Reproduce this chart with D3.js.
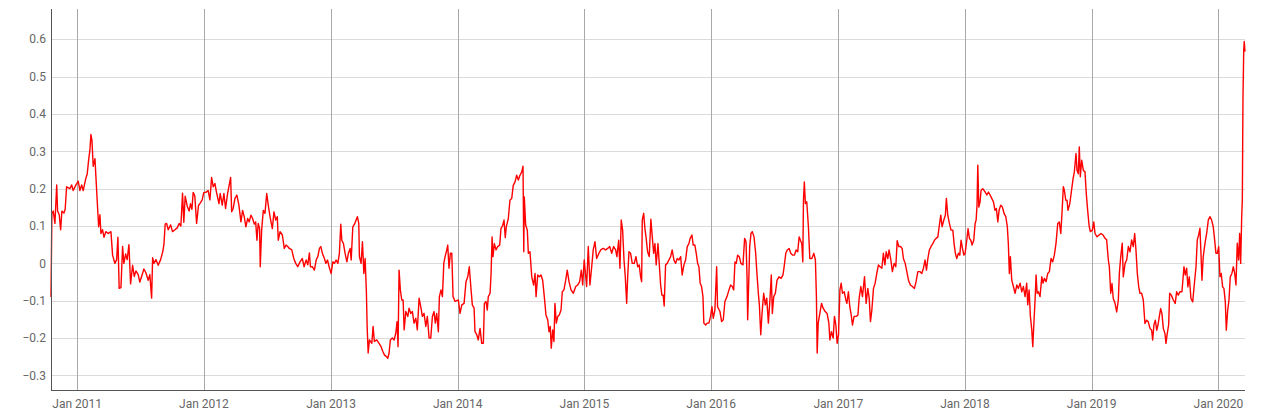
<!DOCTYPE html>
<html><head><meta charset="utf-8">
<script src="https://cdn.jsdelivr.net/npm/d3@7"></script>
<style>body{margin:0;background:#fff}svg{display:block}</style>
</head><body>
<svg id="chart" width="1263" height="416"></svg>
<script>
// dates as decimal years
const dates = [
2010.793,2010.800,2010.811,2010.824,2010.838,2010.845,2010.858,2010.869,2010.879,2010.895,2010.905,2010.916,2010.942,2010.956,2010.968,2010.990,
2011.008,2011.021,2011.035,2011.047,2011.066,2011.079,2011.090,2011.100,2011.108,2011.116,2011.126,2011.140,2011.147,2011.158,2011.169,2011.179,2011.187,2011.200,2011.211,2011.226,2011.245,2011.266,2011.279,2011.297,2011.311,2011.321,2011.331,2011.345,2011.358,2011.368,2011.382,2011.394,2011.408,2011.421,2011.437,2011.450,2011.463,2011.481,2011.494,2011.513,2011.526,2011.542,2011.560,2011.573,2011.587,2011.595,2011.605,2011.621,2011.639,2011.658,2011.674,2011.684,2011.694,2011.705,2011.718,2011.737,2011.752,2011.771,2011.789,2011.804,2011.818,2011.831,2011.841,2011.852,2011.868,2011.883,2011.894,2011.905,2011.915,2011.928,2011.942,2011.957,
2011.968,2011.986,2011.999,2012.015,2012.033,2012.047,2012.060,2012.073,2012.086,2012.099,2012.118,2012.128,2012.144,2012.157,2012.170,2012.186,2012.196,2012.210,2012.218,2012.230,2012.244,2012.259,2012.275,2012.291,2012.304,2012.317,2012.330,2012.344,2012.356,2012.370,2012.383,2012.396,2012.407,2012.417,2012.427,2012.438,2012.443,2012.454,2012.467,2012.480,2012.494,2012.506,2012.520,2012.538,2012.551,2012.565,2012.577,2012.585,2012.599,2012.617,2012.632,2012.646,2012.659,2012.672,2012.691,2012.707,2012.722,2012.738,2012.756,2012.774,2012.788,2012.804,2012.817,2012.830,2012.838,2012.853,2012.869,2012.883,2012.896,2012.909,2012.920,2012.932,2012.948,2012.959,2012.972,2012.985,2013.001,2013.014,
2013.027,2013.040,2013.054,2013.066,2013.077,2013.085,2013.098,2013.111,2013.125,2013.137,2013.151,2013.159,2013.172,2013.185,2013.198,2013.208,2013.219,2013.224,2013.237,2013.248,2013.259,2013.269,2013.279,2013.285,2013.293,2013.303,2013.322,2013.332,2013.342,2013.361,2013.379,2013.395,2013.409,2013.421,2013.435,2013.448,2013.458,2013.468,2013.484,2013.498,2013.511,2013.521,2013.529,2013.537,2013.547,2013.558,2013.569,2013.577,2013.590,2013.606,2013.616,2013.629,2013.642,2013.655,2013.669,2013.681,2013.695,2013.708,2013.721,2013.734,2013.748,2013.760,2013.774,2013.787,2013.800,2013.813,2013.823,2013.834,2013.847,2013.855,2013.868,2013.879,2013.890,2013.900,2013.910,2013.921,2013.931,2013.942,2013.953,2013.963,2013.979,
2014.005,2014.018,2014.032,2014.050,2014.065,2014.079,2014.091,2014.103,2014.115,2014.129,2014.136,2014.150,2014.162,2014.176,2014.189,2014.202,2014.210,2014.223,2014.233,2014.241,2014.255,2014.263,2014.271,2014.278,2014.289,2014.302,2014.315,2014.331,2014.341,2014.355,2014.365,2014.375,2014.383,2014.399,2014.412,2014.426,2014.438,2014.452,2014.465,2014.478,2014.491,2014.505,2014.515,2014.521,2014.525,2014.536,2014.549,2014.557,2014.570,2014.584,2014.599,2014.610,2014.618,2014.631,2014.644,2014.657,2014.670,2014.683,2014.696,2014.710,2014.720,2014.730,2014.738,2014.749,2014.759,2014.767,2014.778,2014.789,2014.801,2014.815,2014.825,2014.838,2014.852,2014.864,2014.878,2014.894,2014.912,2014.931,2014.946,2014.962,2014.975,2014.986,2014.998,
2015.017,2015.030,2015.043,2015.057,2015.069,2015.083,2015.096,2015.114,2015.130,2015.148,2015.167,2015.183,2015.199,2015.215,2015.230,2015.246,2015.256,2015.270,2015.280,2015.290,2015.301,2015.312,2015.322,2015.333,2015.341,2015.351,2015.364,2015.377,2015.393,2015.406,2015.420,2015.432,2015.443,2015.451,2015.456,2015.467,2015.477,2015.487,2015.498,2015.511,2015.524,2015.535,2015.546,2015.556,2015.566,2015.580,2015.590,2015.601,2015.611,2015.621,2015.629,2015.640,2015.653,2015.666,2015.680,2015.692,2015.706,2015.719,2015.732,2015.745,2015.759,2015.771,2015.785,2015.798,2015.811,2015.824,2015.834,2015.848,2015.858,2015.871,2015.882,2015.893,2015.903,2015.913,2015.924,2015.935,2015.942,2015.956,2015.968,2015.982,2015.995,
2016.006,2016.016,2016.029,2016.043,2016.050,2016.069,2016.082,2016.095,2016.108,2016.124,2016.140,2016.153,2016.166,2016.177,2016.187,2016.197,2016.208,2016.221,2016.234,2016.250,2016.263,2016.274,2016.282,2016.287,2016.295,2016.303,2016.313,2016.323,2016.337,2016.350,2016.360,2016.371,2016.379,2016.390,2016.400,2016.413,2016.426,2016.437,2016.450,2016.463,2016.473,2016.481,2016.492,2016.505,2016.518,2016.534,2016.550,2016.565,2016.576,2016.587,2016.599,2016.613,2016.626,2016.642,2016.655,2016.668,2016.681,2016.692,2016.702,2016.713,2016.721,2016.726,2016.733,2016.741,2016.752,2016.765,2016.776,2016.792,2016.808,2016.820,2016.828,2016.834,2016.842,2016.855,2016.868,2016.881,2016.897,2016.912,2016.926,2016.934,2016.946,2016.960,2016.970,2016.981,2016.991,
2017.002,2017.013,2017.023,2017.033,2017.047,2017.060,2017.068,2017.080,2017.091,2017.102,2017.112,2017.125,2017.141,2017.155,2017.165,2017.178,2017.191,2017.207,2017.220,2017.233,2017.244,2017.254,2017.265,2017.278,2017.291,2017.304,2017.317,2017.330,2017.344,2017.356,2017.368,2017.378,2017.391,2017.401,2017.415,2017.427,2017.441,2017.454,2017.465,2017.478,2017.491,2017.504,2017.514,2017.528,2017.541,2017.554,2017.569,2017.585,2017.601,2017.614,2017.628,2017.644,2017.659,2017.672,2017.685,2017.696,2017.707,2017.719,2017.733,2017.746,2017.759,2017.772,2017.786,2017.796,2017.809,2017.819,2017.833,2017.845,2017.853,2017.864,2017.877,2017.890,2017.904,2017.914,2017.924,2017.935,2017.948,2017.959,2017.969,2017.980,2017.991,
2018.001,2018.014,2018.024,2018.035,2018.046,2018.056,2018.069,2018.080,2018.088,2018.095,2018.101,2018.109,2018.119,2018.127,2018.140,2018.159,2018.172,2018.185,2018.198,2018.211,2018.224,2018.237,2018.248,2018.259,2018.269,2018.282,2018.295,2018.308,2018.322,2018.334,2018.342,2018.350,2018.358,2018.369,2018.382,2018.395,2018.409,2018.421,2018.435,2018.448,2018.461,2018.474,2018.487,2018.495,2018.506,2018.516,2018.527,2018.535,2018.545,2018.553,2018.561,2018.569,2018.579,2018.592,2018.606,2018.616,2018.626,2018.640,2018.653,2018.666,2018.679,2018.692,2018.705,2018.718,2018.732,2018.744,2018.756,2018.766,2018.776,2018.784,2018.795,2018.805,2018.813,2018.827,2018.839,2018.853,2018.863,2018.876,2018.884,2018.894,2018.902,2018.910,2018.921,2018.934,2018.947,2018.957,2018.968,2018.979,2018.989,
2019.005,2019.016,2019.026,2019.042,2019.058,2019.073,2019.089,2019.105,2019.118,2019.131,2019.139,2019.150,2019.160,2019.170,2019.184,2019.197,2019.210,2019.218,2019.229,2019.241,2019.249,2019.263,2019.276,2019.289,2019.302,2019.315,2019.328,2019.339,2019.349,2019.360,2019.371,2019.381,2019.394,2019.407,2019.420,2019.434,2019.446,2019.460,2019.473,2019.481,2019.491,2019.502,2019.513,2019.523,2019.533,2019.544,2019.554,2019.565,2019.578,2019.586,2019.596,2019.607,2019.615,2019.628,2019.644,2019.659,2019.670,2019.683,2019.696,2019.712,2019.728,2019.738,2019.749,2019.759,2019.770,2019.783,2019.797,2019.809,2019.823,2019.833,2019.844,2019.854,2019.862,2019.870,2019.880,2019.894,2019.907,2019.920,2019.933,2019.946,2019.959,2019.970,2019.980,2019.991,
2020.002,2020.012,2020.022,2020.033,2020.043,2020.054,2020.062,2020.073,2020.083,2020.093,2020.106,2020.117,2020.128,2020.138,2020.148,2020.159,2020.167,2020.175,2020.183,2020.188,2020.193,2020.199,2020.203,2020.209
];
const values = [
-0.09,0.134,0.14,0.107,0.21,0.14,0.13,0.09,0.14,0.135,0.145,0.205,0.2,0.21,0.195,0.21,
0.22,0.195,0.21,0.195,0.225,0.24,0.277,0.303,0.345,0.33,0.26,0.28,0.235,0.165,0.098,0.13,0.08,0.09,0.07,0.085,0.08,0.085,0.022,0.0,0.01,0.07,-0.067,-0.065,0.045,0.0,0.025,0.01,0.05,-0.055,-0.005,-0.035,-0.02,-0.03,-0.05,-0.03,-0.015,-0.025,-0.045,-0.03,-0.093,0.015,0.0,0.01,-0.005,0.01,0.03,0.05,0.105,0.107,0.09,0.103,0.085,0.09,0.095,0.107,0.1,0.188,0.11,0.18,0.153,0.14,0.16,0.145,0.19,0.18,0.107,0.155,
0.16,0.17,0.19,0.19,0.195,0.17,0.23,0.205,0.214,0.19,0.16,0.187,0.156,0.187,0.147,0.187,0.205,0.23,0.138,0.147,0.174,0.183,0.156,0.111,0.142,0.125,0.098,0.12,0.111,0.129,0.12,0.105,0.111,0.062,0.107,0.093,-0.009,0.089,0.142,0.134,0.187,0.156,0.125,0.093,0.138,0.116,0.125,0.062,0.085,0.076,0.04,0.049,0.045,0.04,0.036,0.013,0.0,-0.009,0.004,0.013,-0.009,0.009,-0.004,0.028,-0.009,-0.009,-0.018,0.009,0.018,0.04,0.045,0.027,0.013,0.0,0.009,-0.009,-0.027,0.004,
0.0,0.009,0.0,0.027,0.105,0.062,0.053,0.027,0.004,0.027,0.04,0.009,0.098,0.105,0.116,0.125,0.107,0.018,0.0,0.058,-0.027,0.013,-0.076,-0.169,-0.24,-0.205,-0.214,-0.169,-0.209,-0.205,-0.214,-0.223,-0.236,-0.245,-0.249,-0.254,-0.24,-0.205,-0.2,-0.205,-0.187,-0.156,-0.223,-0.018,-0.071,-0.098,-0.098,-0.178,-0.129,-0.142,-0.12,-0.134,-0.129,-0.16,-0.147,-0.178,-0.093,-0.116,-0.142,-0.134,-0.169,-0.142,-0.2,-0.2,-0.142,-0.129,-0.16,-0.134,-0.183,-0.089,-0.071,-0.089,0.0,0.018,0.031,0.049,-0.013,0.027,0.027,-0.089,-0.102,
-0.098,-0.134,-0.111,-0.107,-0.049,-0.036,-0.009,-0.062,-0.111,-0.12,-0.183,-0.191,-0.205,-0.174,-0.214,-0.214,-0.107,-0.102,-0.125,-0.089,-0.08,-0.027,0.071,0.018,0.053,0.036,0.045,0.049,0.093,0.102,0.116,0.069,0.098,0.12,0.169,0.174,0.209,0.218,0.236,0.223,0.236,0.245,0.26,0.031,0.178,0.102,0.089,0.027,0.031,-0.036,-0.058,-0.027,-0.089,-0.031,-0.036,-0.031,-0.045,-0.089,-0.138,-0.151,-0.183,-0.169,-0.227,-0.178,-0.209,-0.107,-0.16,-0.142,-0.138,-0.125,-0.076,-0.071,-0.045,-0.018,-0.049,-0.071,-0.08,-0.062,-0.058,-0.049,-0.018,-0.058,0.009,
-0.062,0.045,-0.058,-0.009,0.036,0.058,0.013,0.027,0.037,0.04,0.036,0.04,0.045,0.027,0.045,0.036,0.018,0.062,-0.013,0.116,0.089,0.009,-0.036,-0.107,-0.036,0.031,0.027,0.0,0.0,0.018,-0.009,-0.004,-0.036,-0.049,0.116,0.134,0.093,0.067,0.031,0.018,0.118,0.071,0.027,0.053,-0.004,0.053,0.0,-0.058,-0.085,-0.085,-0.114,-0.004,0.0,0.009,0.018,0.036,0.009,0.0,0.013,0.009,0.018,-0.031,-0.004,0.009,0.045,0.053,0.067,0.076,0.049,0.049,0.027,0.0,-0.009,-0.053,-0.062,-0.089,-0.16,-0.165,-0.16,-0.16,-0.142,
-0.116,-0.147,-0.125,-0.009,-0.116,-0.129,-0.156,-0.151,-0.102,-0.089,-0.071,-0.058,-0.062,-0.071,0.004,0.0,0.022,0.018,0.0,-0.004,0.067,0.058,-0.036,-0.151,-0.053,0.045,0.08,0.085,0.071,0.027,-0.027,-0.08,-0.111,-0.191,-0.134,-0.08,-0.111,-0.093,-0.16,-0.093,-0.031,-0.134,-0.089,-0.08,-0.045,-0.036,-0.04,-0.031,-0.004,0.027,0.036,0.04,0.027,0.022,0.022,0.036,0.031,0.071,0.062,0.053,0.004,0.169,0.218,0.16,0.165,0.098,0.013,0.013,0.027,0.009,-0.089,-0.24,-0.16,-0.134,-0.107,-0.12,-0.129,-0.134,-0.16,-0.205,-0.183,-0.2,-0.142,-0.165,-0.214,
-0.191,-0.071,-0.053,-0.08,-0.076,-0.098,-0.107,-0.076,-0.116,-0.138,-0.165,-0.142,-0.142,-0.138,-0.093,-0.062,-0.089,-0.036,-0.107,-0.067,-0.093,-0.156,-0.125,-0.067,-0.053,-0.027,-0.004,-0.009,-0.013,0.027,-0.004,0.031,0.013,0.036,0.009,-0.022,0.0,-0.009,0.061,0.045,0.045,0.04,0.013,0.0,-0.022,-0.045,-0.058,-0.062,-0.067,-0.049,-0.022,-0.022,-0.027,-0.013,0.009,-0.018,0.013,0.036,0.046,0.053,0.062,0.067,0.071,0.098,0.129,0.098,0.116,0.129,0.174,0.129,0.107,0.089,0.089,0.053,0.027,0.013,0.027,0.022,0.062,0.04,0.022,
0.027,0.062,0.093,0.067,0.062,0.049,0.062,0.107,0.116,0.156,0.263,0.151,0.165,0.196,0.2,0.191,0.183,0.191,0.183,0.174,0.165,0.142,0.147,0.111,0.142,0.156,0.151,0.134,0.125,0.098,0.053,-0.027,0.018,-0.045,-0.062,-0.08,-0.058,-0.067,-0.053,-0.076,-0.062,-0.089,-0.053,-0.111,-0.071,-0.142,-0.178,-0.223,-0.151,-0.098,-0.031,-0.08,-0.076,-0.089,-0.036,-0.053,-0.04,-0.049,-0.027,-0.022,0.013,0.004,0.022,0.053,0.107,0.111,0.08,0.138,0.205,0.196,0.169,0.169,0.142,0.16,0.191,0.227,0.245,0.294,0.249,0.24,0.312,0.232,0.276,0.249,0.245,0.187,0.142,0.102,0.085,
0.089,0.111,0.08,0.071,0.076,0.08,0.076,0.067,0.063,0.009,-0.009,-0.08,-0.054,-0.094,-0.107,-0.13,-0.098,-0.027,0.018,0.054,-0.036,0.0,0.009,0.045,0.031,0.063,0.045,0.08,0.036,-0.027,-0.063,-0.08,-0.08,-0.098,-0.161,-0.152,-0.156,-0.174,-0.179,-0.205,-0.165,-0.152,-0.179,-0.165,-0.143,-0.121,-0.134,-0.174,-0.188,-0.214,-0.188,-0.165,-0.08,-0.085,-0.098,-0.107,-0.076,-0.085,-0.076,-0.076,-0.009,-0.031,-0.013,-0.063,-0.036,-0.094,-0.103,-0.058,-0.009,0.063,0.076,0.094,0.027,-0.045,0.018,0.054,0.08,0.116,0.125,0.116,0.098,0.063,0.027,0.027,
0.045,-0.036,-0.027,-0.063,-0.067,-0.103,-0.179,-0.125,-0.098,-0.036,-0.027,-0.009,-0.027,-0.058,0.054,0.009,0.08,0.0,0.125,0.17,0.44,0.571,0.594,0.567
];
const yTicks = [-0.3,-0.2,-0.1,0,0.1,0.2,0.3,0.4,0.5,0.6];
const yDomain = [-0.339, 0.681];

function toDate(dy){
  const y = Math.floor(dy);
  const s = new Date(y,0,1), e = new Date(y+1,0,1);
  return new Date(+s + (dy - y) * (e - s));
}
const data = dates.map((d,i)=>({date:toDate(d), value:values[i]}));

const W = 1263, H = 416;
const m = {left:51, right:18, top:9, bottom:26};
const svg = d3.select('#chart');
const x = d3.scaleTime().domain(d3.extent(data,d=>d.date)).range([m.left, W-m.right]);
const y = d3.scaleLinear().domain(yDomain).range([H-m.bottom, m.top]);
const font = 'Roboto, "Noto Sans", Arial, sans-serif';

svg.append('g').selectAll('line').data(yTicks).join('line')
  .attr('x1', m.left).attr('x2', W-m.right)
  .attr('y1', d=>Math.round(y(d))+0.5).attr('y2', d=>Math.round(y(d))+0.5)
  .attr('stroke','#dadada').attr('stroke-width',1);

const xTicks = d3.timeYear.range(d3.timeYear.ceil(x.domain()[0]), x.domain()[1]);
svg.append('g').selectAll('line').data(xTicks).join('line')
  .attr('x1', d=>Math.round(x(d))+0.5).attr('x2', d=>Math.round(x(d))+0.5)
  .attr('y1', m.top).attr('y2', H-m.bottom)
  .attr('stroke','#a8a8a8').attr('stroke-width',1);

svg.append('g').selectAll('text').data(yTicks).join('text')
  .attr('x', m.left-5).attr('y', d=>y(d)).attr('dy','0.35em')
  .attr('text-anchor','end').attr('font-family',font).attr('font-size',12).attr('fill','#666')
  .text(d=>d3.format('')(+d.toFixed(1)));

const fmt = d3.timeFormat('Jan %Y');
svg.append('g').selectAll('text').data(xTicks).join('text')
  .attr('x', d=>x(d)).attr('y', H-8)
  .attr('text-anchor','middle').attr('font-family',font).attr('font-size',12).attr('fill','#666')
  .text(d=>fmt(d));

const line = d3.line().x(d=>x(d.date)).y(d=>y(d.value));
svg.append('path').datum(data).attr('d', line)
  .attr('fill','none').attr('stroke','#ff0000').attr('stroke-width',1.4).attr('stroke-linejoin','round');

svg.append('line').attr('x1', m.left+0.5).attr('x2', m.left+0.5).attr('y1', m.top).attr('y2', H-m.bottom+0.5)
  .attr('stroke','#555').attr('stroke-width',1);
svg.append('line').attr('x1', m.left).attr('x2', W-m.right).attr('y1', H-m.bottom+0.5).attr('y2', H-m.bottom+0.5)
  .attr('stroke','#555').attr('stroke-width',1);
</script>
</body></html>
